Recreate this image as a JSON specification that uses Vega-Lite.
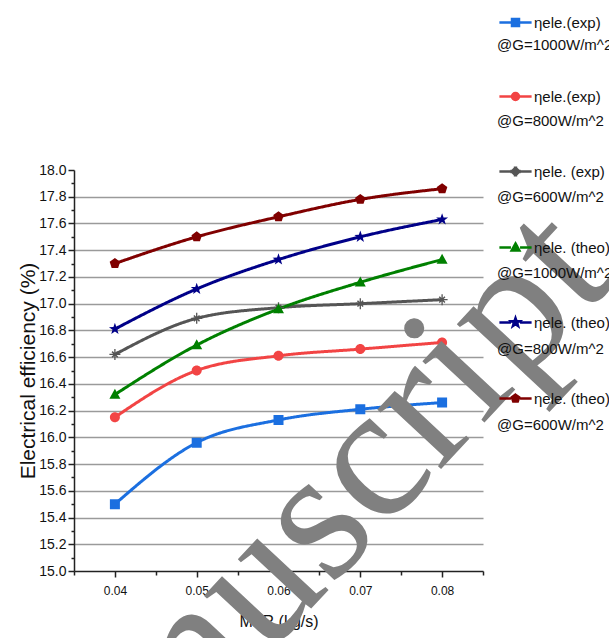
{
  "$schema": "https://vega.github.io/schema/vega-lite/v6.json",
  "width": 409,
  "height": 401,
  "autosize": {"type": "none"},
  "padding": {"left": 74, "top": 170, "right": 126, "bottom": 67},
  "background": "white",
  "config": {
    "view": {"stroke": null},
    "font": "Liberation Sans, Arial, sans-serif",
    "axis": {"labelFont": "Liberation Sans, Arial, sans-serif", "titleFont": "Liberation Sans, Arial, sans-serif", "labelColor": "#111", "titleColor": "#111", "titleFontWeight": "normal", "domainColor": "#222", "tickColor": "#222", "domainWidth": 1.5, "tickWidth": 1.5, "labelOverlap": false},
    "legend": {"labelFont": "Liberation Sans, Arial, sans-serif"}
  },
  "data": {
    "values": [
      {"mfr": 0.04, "eff": 15.50, "series": "ηele.(exp) @G=1000W/m^2"},
      {"mfr": 0.05, "eff": 15.96, "series": "ηele.(exp) @G=1000W/m^2"},
      {"mfr": 0.06, "eff": 16.13, "series": "ηele.(exp) @G=1000W/m^2"},
      {"mfr": 0.07, "eff": 16.21, "series": "ηele.(exp) @G=1000W/m^2"},
      {"mfr": 0.08, "eff": 16.26, "series": "ηele.(exp) @G=1000W/m^2"},
      {"mfr": 0.04, "eff": 16.15, "series": "ηele.(exp) @G=800W/m^2"},
      {"mfr": 0.05, "eff": 16.50, "series": "ηele.(exp) @G=800W/m^2"},
      {"mfr": 0.06, "eff": 16.61, "series": "ηele.(exp) @G=800W/m^2"},
      {"mfr": 0.07, "eff": 16.66, "series": "ηele.(exp) @G=800W/m^2"},
      {"mfr": 0.08, "eff": 16.71, "series": "ηele.(exp) @G=800W/m^2"},
      {"mfr": 0.04, "eff": 16.62, "series": "ηele. (exp) @G=600W/m^2"},
      {"mfr": 0.05, "eff": 16.89, "series": "ηele. (exp) @G=600W/m^2"},
      {"mfr": 0.06, "eff": 16.97, "series": "ηele. (exp) @G=600W/m^2"},
      {"mfr": 0.07, "eff": 17.00, "series": "ηele. (exp) @G=600W/m^2"},
      {"mfr": 0.08, "eff": 17.03, "series": "ηele. (exp) @G=600W/m^2"},
      {"mfr": 0.04, "eff": 16.32, "series": "ηele. (theo) @G=1000W/m^2"},
      {"mfr": 0.05, "eff": 16.69, "series": "ηele. (theo) @G=1000W/m^2"},
      {"mfr": 0.06, "eff": 16.96, "series": "ηele. (theo) @G=1000W/m^2"},
      {"mfr": 0.07, "eff": 17.16, "series": "ηele. (theo) @G=1000W/m^2"},
      {"mfr": 0.08, "eff": 17.33, "series": "ηele. (theo) @G=1000W/m^2"},
      {"mfr": 0.04, "eff": 16.81, "series": "ηele. (theo) @G=800W/m^2"},
      {"mfr": 0.05, "eff": 17.11, "series": "ηele. (theo) @G=800W/m^2"},
      {"mfr": 0.06, "eff": 17.33, "series": "ηele. (theo) @G=800W/m^2"},
      {"mfr": 0.07, "eff": 17.50, "series": "ηele. (theo) @G=800W/m^2"},
      {"mfr": 0.08, "eff": 17.63, "series": "ηele. (theo) @G=800W/m^2"},
      {"mfr": 0.04, "eff": 17.30, "series": "ηele. (theo) @G=600W/m^2"},
      {"mfr": 0.05, "eff": 17.50, "series": "ηele. (theo) @G=600W/m^2"},
      {"mfr": 0.06, "eff": 17.65, "series": "ηele. (theo) @G=600W/m^2"},
      {"mfr": 0.07, "eff": 17.78, "series": "ηele. (theo) @G=600W/m^2"},
      {"mfr": 0.08, "eff": 17.86, "series": "ηele. (theo) @G=600W/m^2"}
    ]
  },
  "layer": [
    {
      "mark": {"type": "line", "interpolate": "monotone", "strokeWidth": 3},
      "encoding": {
        "x": {"field": "mfr", "type": "quantitative", "scale": {"domain": [0.035, 0.085], "nice": false, "zero": false},
          "axis": {"title": "MFR (kg/s)", "titleFontSize": 16, "titlePadding": 17, "labelFontSize": 12, "labelPadding": 8, "grid": false, "tickCount": 20,
            "values": [0.035, 0.04, 0.045, 0.05, 0.055, 0.06, 0.065, 0.07, 0.075, 0.08, 0.085],
            "labelExpr": "(round(datum.value*1000) % 10 == 0 && datum.value > 0.036 && datum.value < 0.084) ? format(datum.value, '.2f') : ''",
            "tickSize": {"condition": {"test": "round(datum.value*1000) % 10 == 0", "value": 6}, "value": 4}}},
        "y": {"field": "eff", "type": "quantitative", "scale": {"domain": [15, 18], "nice": false, "zero": false},
          "axis": {"title": "Electrical efficiency (%)", "titleFontSize": 21, "titlePadding": 0, "labelFontSize": 14, "labelPadding": 2, "tickCount": 40,
            "values": [15.0, 15.1, 15.2, 15.3, 15.4, 15.5, 15.6, 15.7, 15.8, 15.9, 16.0, 16.1, 16.2, 16.3, 16.4, 16.5, 16.6, 16.7, 16.8, 16.9, 17.0, 17.1, 17.2, 17.3, 17.4, 17.5, 17.6, 17.7, 17.8, 17.9, 18.0],
            "labelExpr": "round(datum.value*10) % 2 == 0 ? format(datum.value, '.1f') : ''",
            "tickSize": {"condition": {"test": "round(datum.value*10) % 2 == 0", "value": 6}, "value": 3},
            "grid": true, "gridColor": "#9a9a9a", "gridWidth": 1.5,
            "gridOpacity": {"condition": {"test": "round(datum.value*10) % 2 == 0 && datum.value > 15.05 && datum.value < 17.95", "value": 1}, "value": 0}}},
        "color": {"field": "series", "type": "nominal",
          "legend": {"orient": "none", "legendX": 434, "legendY": -155, "title": null, "labelFontSize": 15, "labelColor": "#111", "labelOffset": 11, "rowPadding": 57, "padding": 0, "symbolSize": 49, "symbolStrokeWidth": 2.5, "labelLimit": 300,
            "labelExpr": "split(datum.label, ' @')[0]"},
          "scale": {"domain": ["ηele.(exp) @G=1000W/m^2", "ηele.(exp) @G=800W/m^2", "ηele. (exp) @G=600W/m^2", "ηele. (theo) @G=1000W/m^2", "ηele. (theo) @G=800W/m^2", "ηele. (theo) @G=600W/m^2"],
            "range": ["#1b6fe0", "#f24444", "#555555", "#008000", "#000088", "#800000"]}},
        "strokeDash": {"field": "series", "type": "nominal",
          "sort": ["ηele.(exp) @G=1000W/m^2", "ηele.(exp) @G=800W/m^2", "ηele. (exp) @G=600W/m^2", "ηele. (theo) @G=1000W/m^2", "ηele. (theo) @G=800W/m^2", "ηele. (theo) @G=600W/m^2"],
          "scale": {"range": [[1, 0], [1, 0], [1, 0], [1, 0], [1, 0], [1, 0]]},
          "legend": {"orient": "none", "legendX": 408, "legendY": -133, "title": null, "labelFontSize": 15, "labelColor": "#111", "labelOffset": 0, "rowPadding": 60, "padding": 0, "symbolSize": 1, "symbolOpacity": 0, "symbolStrokeWidth": 0, "labelLimit": 300,
            "labelExpr": "'@' + split(datum.label, ' @')[1]"}}
      }
    },
    {
      "mark": {"type": "point", "filled": true, "size": 100, "opacity": 1},
      "encoding": {
        "x": {"field": "mfr", "type": "quantitative"},
        "y": {"field": "eff", "type": "quantitative"},
        "color": {"field": "series", "type": "nominal",
          "legend": {"orient": "none", "legendX": 434, "legendY": -155, "title": null, "labelFontSize": 15, "labelColor": "#111", "labelOffset": 11, "rowPadding": 57, "padding": 0, "symbolSize": 49, "symbolStrokeWidth": 2.5, "labelLimit": 300,
            "labelExpr": "split(datum.label, ' @')[0]"}},
        "stroke": {"field": "series", "type": "nominal",
          "scale": {"domain": ["ηele.(exp) @G=1000W/m^2", "ηele.(exp) @G=800W/m^2", "ηele. (exp) @G=600W/m^2", "ηele. (theo) @G=1000W/m^2", "ηele. (theo) @G=800W/m^2", "ηele. (theo) @G=600W/m^2"],
            "range": ["#1b6fe0", "#f24444", "#555555", "#008000", "#000088", "#800000"]}},
        "shape": {"field": "series", "type": "nominal",
          "scale": {"domain": ["ηele.(exp) @G=1000W/m^2", "ηele.(exp) @G=800W/m^2", "ηele. (exp) @G=600W/m^2", "ηele. (theo) @G=1000W/m^2", "ηele. (theo) @G=800W/m^2", "ηele. (theo) @G=600W/m^2"],
            "range": [
              "M-4.6,0L-1.3,0M1.3,0L4.6,0M-1,-1L1,-1L1,1L-1,1Z",
              "M-4.6,0L-1.3,0M1.3,0L4.6,0M1,0A1,1,0,1,1,-1,0A1,1,0,1,1,1,0Z",
              "M-4.6,0L-1.3,0M1.3,0L4.6,0M-1.1,-0.13L1.1,-0.13L1.1,0.13L-1.1,0.13ZM-0.13,-1.1L0.13,-1.1L0.13,1.1L-0.13,1.1ZM-0.46,-0.672L0.672,0.46L0.46,0.672L-0.672,-0.46ZM-0.672,0.46L0.46,-0.672L0.672,-0.46L-0.46,0.672Z",
              "M-4.6,0L-1.3,0M1.3,0L4.6,0M0,-1.15L1.1,0.85L-1.1,0.85Z",
              "M-4.6,0L-1.3,0M1.3,0L4.6,0M0,-1.25L0.294,-0.405L1.189,-0.386L0.476,0.155L0.735,1.011L0,0.5L-0.735,1.011L-0.476,0.155L-1.189,-0.386L-0.294,-0.405Z",
              "M-4.6,0L-1.3,0M1.3,0L4.6,0M0,-1.1L1.046,-0.34L0.647,0.89L-0.647,0.89L-1.046,-0.34Z"
            ]}},
        "strokeWidth": {"value": 0}
      }
    },
    {
      "data": {"values": [{}]},
      "mark": {"type": "text", "text": "Manuscript", "font": "Liberation Serif, DejaVu Serif, serif", "fontSize": 190, "angle": -47, "align": "center", "baseline": "middle", "color": "#808080"},
      "encoding": {
        "x": {"datum": 0.0604},
        "y": {"datum": 15.11}
      }
    }
  ]
}
